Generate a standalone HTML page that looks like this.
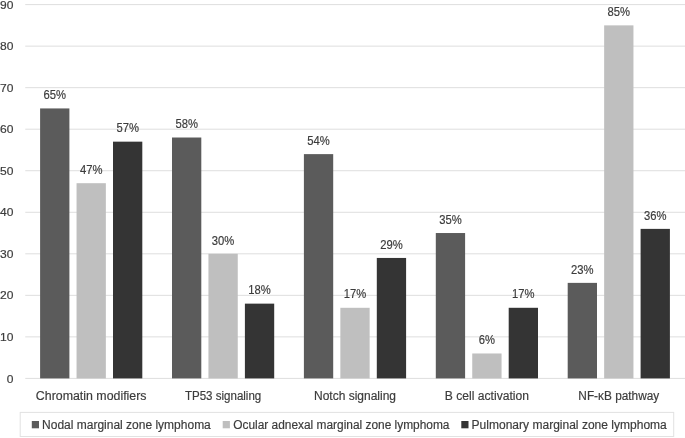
<!DOCTYPE html>
<html lang="en">
<head>
<meta charset="utf-8">
<title>Chart</title>
<style>
html,body{margin:0;padding:0;background:#fff;}
body{width:685px;height:438px;overflow:hidden;}
svg{display:block;}
text{font-family:"Liberation Sans",sans-serif;font-size:12px;fill:#3c3c3c;stroke:#3c3c3c;stroke-width:0.18px;}
text.ax{font-size:11.2px;}
</style>
</head>
<body>
<svg width="685" height="438" viewBox="0 0 685 438">
<rect x="0" y="0" width="685" height="438" fill="#ffffff"/>
<g stroke="#dedede" stroke-width="1">
<line x1="25.25" y1="378.40" x2="685" y2="378.40"/>
<line x1="25.25" y1="336.87" x2="685" y2="336.87"/>
<line x1="25.25" y1="295.33" x2="685" y2="295.33"/>
<line x1="25.25" y1="253.80" x2="685" y2="253.80"/>
<line x1="25.25" y1="212.27" x2="685" y2="212.27"/>
<line x1="25.25" y1="170.73" x2="685" y2="170.73"/>
<line x1="25.25" y1="129.20" x2="685" y2="129.20"/>
<line x1="25.25" y1="87.67" x2="685" y2="87.67"/>
<line x1="25.25" y1="46.13" x2="685" y2="46.13"/>
<line x1="25.25" y1="4.60" x2="685" y2="4.60"/>
</g>
<g text-anchor="end">
<text x="13.4" y="382.50" class="ax" textLength="6.7" lengthAdjust="spacingAndGlyphs">0</text>
<text x="13.4" y="340.97" class="ax" textLength="13.4" lengthAdjust="spacingAndGlyphs">10</text>
<text x="13.4" y="299.43" class="ax" textLength="13.4" lengthAdjust="spacingAndGlyphs">20</text>
<text x="13.4" y="257.90" class="ax" textLength="13.4" lengthAdjust="spacingAndGlyphs">30</text>
<text x="13.4" y="216.37" class="ax" textLength="13.4" lengthAdjust="spacingAndGlyphs">40</text>
<text x="13.4" y="174.83" class="ax" textLength="13.4" lengthAdjust="spacingAndGlyphs">50</text>
<text x="13.4" y="133.30" class="ax" textLength="13.4" lengthAdjust="spacingAndGlyphs">60</text>
<text x="13.4" y="91.77" class="ax" textLength="13.4" lengthAdjust="spacingAndGlyphs">70</text>
<text x="13.4" y="50.23" class="ax" textLength="13.4" lengthAdjust="spacingAndGlyphs">80</text>
<text x="13.4" y="8.70" class="ax" textLength="13.4" lengthAdjust="spacingAndGlyphs">90</text>
</g>
<rect x="40.10" y="108.43" width="29.3" height="269.97" fill="#5b5b5b"/>
<text x="54.75" y="99.13" text-anchor="middle" textLength="22.5" lengthAdjust="spacingAndGlyphs">65%</text>
<rect x="76.55" y="183.19" width="29.3" height="195.21" fill="#bfbfbf"/>
<text x="91.20" y="173.89" text-anchor="middle" textLength="22.5" lengthAdjust="spacingAndGlyphs">47%</text>
<rect x="113.00" y="141.66" width="29.3" height="236.74" fill="#343434"/>
<text x="127.65" y="132.36" text-anchor="middle" textLength="22.5" lengthAdjust="spacingAndGlyphs">57%</text>
<text x="91.20" y="399.8" text-anchor="middle" textLength="110.7" lengthAdjust="spacingAndGlyphs">Chromatin modifiers</text>
<rect x="172.00" y="137.51" width="29.3" height="240.89" fill="#5b5b5b"/>
<text x="186.65" y="128.21" text-anchor="middle" textLength="22.5" lengthAdjust="spacingAndGlyphs">58%</text>
<rect x="208.45" y="253.80" width="29.3" height="124.60" fill="#bfbfbf"/>
<text x="223.10" y="244.50" text-anchor="middle" textLength="22.5" lengthAdjust="spacingAndGlyphs">30%</text>
<rect x="244.90" y="303.64" width="29.3" height="74.76" fill="#343434"/>
<text x="259.55" y="294.34" text-anchor="middle" textLength="22.5" lengthAdjust="spacingAndGlyphs">18%</text>
<text x="223.10" y="399.8" text-anchor="middle" textLength="76.4" lengthAdjust="spacingAndGlyphs">TP53 signaling</text>
<rect x="303.90" y="154.12" width="29.3" height="224.28" fill="#5b5b5b"/>
<text x="318.55" y="144.82" text-anchor="middle" textLength="22.5" lengthAdjust="spacingAndGlyphs">54%</text>
<rect x="340.35" y="307.79" width="29.3" height="70.61" fill="#bfbfbf"/>
<text x="355.00" y="298.49" text-anchor="middle" textLength="22.5" lengthAdjust="spacingAndGlyphs">17%</text>
<rect x="376.80" y="257.95" width="29.3" height="120.45" fill="#343434"/>
<text x="391.45" y="248.65" text-anchor="middle" textLength="22.5" lengthAdjust="spacingAndGlyphs">29%</text>
<text x="355.00" y="399.8" text-anchor="middle" textLength="82.0" lengthAdjust="spacingAndGlyphs">Notch signaling</text>
<rect x="435.80" y="233.03" width="29.3" height="145.37" fill="#5b5b5b"/>
<text x="450.45" y="223.73" text-anchor="middle" textLength="22.5" lengthAdjust="spacingAndGlyphs">35%</text>
<rect x="472.25" y="353.48" width="29.3" height="24.92" fill="#bfbfbf"/>
<text x="486.90" y="344.18" text-anchor="middle" textLength="16.2" lengthAdjust="spacingAndGlyphs">6%</text>
<rect x="508.70" y="307.79" width="29.3" height="70.61" fill="#343434"/>
<text x="523.35" y="298.49" text-anchor="middle" textLength="22.5" lengthAdjust="spacingAndGlyphs">17%</text>
<text x="486.90" y="399.8" text-anchor="middle" textLength="84.1" lengthAdjust="spacingAndGlyphs">B cell activation</text>
<rect x="567.70" y="282.87" width="29.3" height="95.53" fill="#5b5b5b"/>
<text x="582.35" y="273.57" text-anchor="middle" textLength="22.5" lengthAdjust="spacingAndGlyphs">23%</text>
<rect x="604.15" y="25.37" width="29.3" height="353.03" fill="#bfbfbf"/>
<text x="618.80" y="16.07" text-anchor="middle" textLength="22.5" lengthAdjust="spacingAndGlyphs">85%</text>
<rect x="640.60" y="228.88" width="29.3" height="149.52" fill="#343434"/>
<text x="655.25" y="219.58" text-anchor="middle" textLength="22.5" lengthAdjust="spacingAndGlyphs">36%</text>
<text x="618.80" y="399.8" text-anchor="middle" textLength="80.9" lengthAdjust="spacingAndGlyphs">NF-κB pathway</text>
<rect x="20.2" y="412.4" width="653.5" height="24.1" fill="#ffffff" stroke="#e2e2e2" stroke-width="1"/>
<rect x="31.8" y="421.0" width="7.2" height="7.3" fill="#5b5b5b"/>
<text x="42.1" y="428.7" textLength="168.7" lengthAdjust="spacingAndGlyphs">Nodal marginal zone lymphoma</text>
<rect x="222.7" y="421.0" width="7.2" height="7.3" fill="#bfbfbf"/>
<text x="233.2" y="428.7" textLength="216.3" lengthAdjust="spacingAndGlyphs">Ocular adnexal marginal zone lymphoma</text>
<rect x="461.3" y="421.0" width="7.2" height="7.3" fill="#343434"/>
<text x="471.6" y="428.7" textLength="195.2" lengthAdjust="spacingAndGlyphs">Pulmonary marginal zone lymphoma</text>
</svg>
</body>
</html>
